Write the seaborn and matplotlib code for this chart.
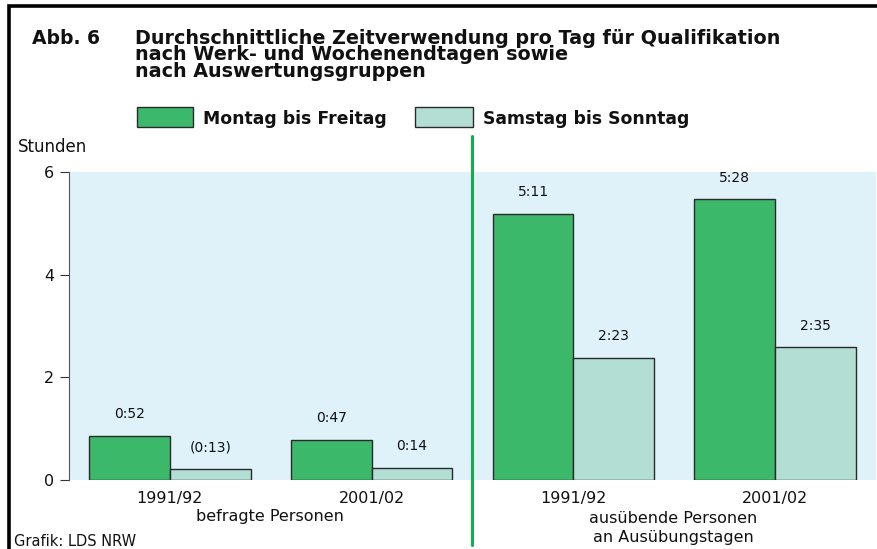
import matplotlib
matplotlib.use("Agg")
import matplotlib.pyplot as plt
from matplotlib.patches import Rectangle
from matplotlib.lines import Line2D
import seaborn as sns
import pandas as pd

# Average time spent per day on qualification, in minutes
slots = ["bef_1991", "bef_2001", "aus_1991", "aus_2001"]
year_labels = ["1991/92", "2001/02", "1991/92", "2001/02"]
weekday_minutes = [52, 47, 311, 328]   # Montag bis Freitag
weekend_minutes = [13, 14, 143, 155]   # Samstag bis Sonntag
weekend_uncertain = [True, False, False, False]
series_names = ["Montag bis Freitag", "Samstag bis Sonntag"]
group_labels = [["befragte Personen"],
                ["ausübende Personen", "an Ausübungstagen"]]
title_lines = ["Durchschnittliche Zeitverwendung pro Tag für Qualifikation",
               "nach Werk- und Wochenendtagen sowie",
               "nach Auswertungsgruppen"]
y_ticks = [0, 2, 4, 6]

C_WEEKDAY = "#3cb86a"
C_WEEKEND = "#b2ded4"
C_EDGE = "#2a2a2a"
C_BG = "#dff1f9"
C_DIVIDER = "#14ad4e"
C_TEXT = "#111111"
FONT = "DejaVu Sans"

W, H = 878, 549

sns.set_theme(style="white")
plt.rcParams["font.family"] = [FONT]


def fx(px):
    return px / W


def fy(py):
    return 1 - py / H


def fmt(m):
    return f"{m // 60}:{m % 60:02d}"


rows = []
for s, wd, we in zip(slots, weekday_minutes, weekend_minutes):
    rows.append({"slot": s, "Zeitraum": series_names[0], "Stunden": wd / 60})
    rows.append({"slot": s, "Zeitraum": series_names[1], "Stunden": we / 60})
df = pd.DataFrame(rows)

fig = plt.figure(figsize=(W / 100, H / 100), dpi=100)
ax = fig.add_axes([fx(69), fy(480), 807 / W, 308 / H])
ax.set_facecolor(C_BG)

sns.barplot(data=df, x="slot", y="Stunden", hue="Zeitraum", order=slots,
            hue_order=series_names, palette=[C_WEEKDAY, C_WEEKEND],
            saturation=1, width=0.8, edgecolor=C_EDGE, linewidth=1.0, ax=ax,
            legend=False)

ax.set_xlim(-0.5, 3.5)
ax.set_ylim(0, 6)
ax.set_yticks(y_ticks)
ax.set_yticklabels([str(t) for t in y_ticks], fontsize=11.5)
ax.set_xticks(range(len(slots)))
ax.set_xticklabels(year_labels, fontsize=11.5)
ax.set_xlabel("")
ax.set_ylabel("")
for side in ["top", "right", "bottom"]:
    ax.spines[side].set_visible(False)
ax.spines["left"].set_color("#555555")
ax.spines["left"].set_linewidth(0.8)
ax.tick_params(axis="y", which="both", left=True, length=6.5, width=0.8,
               color="#333333", pad=4, labelcolor=C_TEXT)
ax.tick_params(axis="x", bottom=False, pad=1.8, labelcolor=C_TEXT)

# Value labels above the bars
wd_labels = [fmt(m) for m in weekday_minutes]
we_labels = [f"({fmt(m)})" if u else fmt(m)
             for m, u in zip(weekend_minutes, weekend_uncertain)]
ax.bar_label(ax.containers[0], labels=wd_labels, padding=10.5, fontsize=10,
             color=C_TEXT)
ax.bar_label(ax.containers[1], labels=we_labels, padding=10.5, fontsize=10,
             color=C_TEXT)

# Group captions under the year labels
fig.text(fx(270), fy(517), group_labels[0][0], ha="center", va="center",
         fontsize=11.5, color=C_TEXT)
fig.text(fx(673), fy(528), "\n".join(group_labels[1]), ha="center",
         va="center", fontsize=11.5, color=C_TEXT, linespacing=1.3)

# Divider between the two population groups
fig.add_artist(Line2D([fx(471.5), fx(471.5)], [fy(136), fy(545)],
                      color=C_DIVIDER, linewidth=2.2))

# Frame on the top and left edge
fig.add_artist(Line2D([fx(9.5), fx(9.5), 1.0], [0.0, fy(5.5), fy(5.5)],
                      color="black", linewidth=2.6, solid_joinstyle="miter"))

# Title block
fig.text(fx(32), fy(43.5), "Abb. 6", ha="left", va="baseline",
         fontsize=13.5, fontweight="bold", color=C_TEXT)
fig.text(fx(135), fy(28.5), "\n".join(title_lines), ha="left", va="top",
         fontsize=13.8, fontweight="bold", color=C_TEXT, linespacing=0.84)

# Axis unit
fig.text(fx(18), fy(147), "Stunden", ha="left", va="center",
         fontsize=12, color=C_TEXT)

# Legend
for (x0, x1, tx), name, col in zip([(137, 193, 203), (415, 473, 483)],
                                   series_names, [C_WEEKDAY, C_WEEKEND]):
    fig.add_artist(Rectangle((fx(x0), fy(127)), (x1 - x0) / W, 20 / H,
                             transform=fig.transFigure, facecolor=col,
                             edgecolor=C_EDGE, linewidth=1.0))
    fig.text(fx(tx), fy(124.5), name, ha="left", va="baseline",
             fontsize=12.4, fontweight="bold", color=C_TEXT)

# Source
fig.text(fx(14), fy(542), "Grafik: LDS NRW", ha="left", va="center",
         fontsize=10.5, color=C_TEXT)

fig.savefig("out.png", dpi=100, facecolor="white")
